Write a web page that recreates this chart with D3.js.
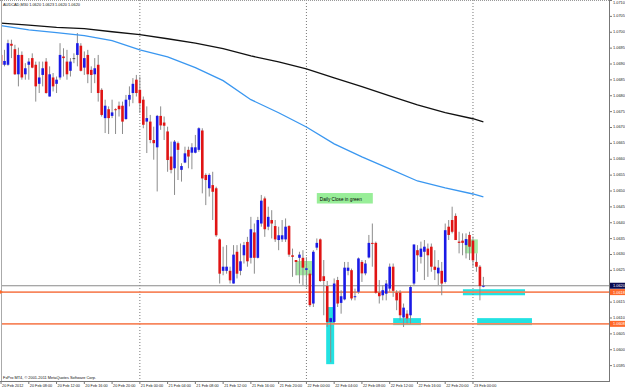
<!DOCTYPE html>
<html>
<head>
<meta charset="utf-8">
<script src="https://cdn.jsdelivr.net/npm/d3@7"></script>
<style>
  html, body { margin: 0; padding: 0; background: #fff; }
  svg { display: block; font-family: "Liberation Sans", Arial, sans-serif; }
</style>
</head>
<body>
<div id="chart"></div>
<script>
// AUDCAD M30, 20 Feb 04:00 .. 23 Feb 01:30 (one entry per bar)
const opens = [
  1.06927, 1.06896, 1.06896, 1.06962, 1.06945, 1.06866, 1.06927, 1.06866, 1.06896, 1.06917,
  1.06896, 1.06836, 1.06864, 1.06906, 1.06796, 1.06856, 1.06836, 1.06856, 1.06922, 1.06906,
  1.06877, 1.06917, 1.06927, 1.06956, 1.06887, 1.06927, 1.06880, 1.06866, 1.06896, 1.06817,
  1.06728, 1.06756, 1.06735, 1.06756, 1.06767, 1.06767, 1.06725, 1.06786, 1.06807, 1.06849,
  1.06817, 1.06786, 1.06717, 1.06717, 1.06659, 1.06636, 1.06735, 1.06714, 1.06686, 1.06607,
  1.06570, 1.06649, 1.06565, 1.06588, 1.06628, 1.06619, 1.06619, 1.06628, 1.06689, 1.06549,
  1.06507, 1.06517, 1.06507, 1.06346, 1.06247, 1.06247, 1.06247, 1.06207, 1.06307, 1.06247,
  1.06296, 1.06338, 1.06288, 1.06368, 1.06288, 1.06396, 1.06475, 1.06386, 1.06407, 1.06388,
  1.06344, 1.06346, 1.06346, 1.06388, 1.06296, 1.06281, 1.06288, 1.06288, 1.06250, 1.06238,
  1.06144, 1.06320, 1.06346, 1.06230, 1.06199, 1.06086, 1.06086, 1.06218, 1.06146, 1.06157,
  1.06247, 1.06249, 1.06165, 1.06181, 1.06275, 1.06239, 1.06289, 1.06335, 1.06335, 1.06178,
  1.06170, 1.06175, 1.06191, 1.06260, 1.06178, 1.06178, 1.06100, 1.06112, 1.06107, 1.06207,
  1.06312, 1.06291, 1.06307, 1.06317, 1.06323, 1.06260, 1.06239, 1.06247, 1.06212, 1.06386,
  1.06407, 1.06420, 1.06339, 1.06342, 1.06328, 1.06360, 1.06342, 1.06275, 1.06260, 1.06199
];
const highs = [
  1.06938, 1.06943, 1.06975, 1.06975, 1.06959, 1.06950, 1.06938, 1.06901, 1.06917, 1.06932,
  1.06906, 1.06906, 1.06906, 1.06917, 1.06891, 1.06870, 1.06859, 1.06964, 1.06948, 1.06943,
  1.06917, 1.06932, 1.06996, 1.06964, 1.06938, 1.06943, 1.06891, 1.06917, 1.06927, 1.06822,
  1.06786, 1.06765, 1.06786, 1.06759, 1.06780, 1.06780, 1.06801, 1.06828, 1.06854, 1.06864,
  1.06859, 1.06796, 1.06765, 1.06738, 1.06701, 1.06738, 1.06765, 1.06733, 1.06701, 1.06654,
  1.06659, 1.06654, 1.06586, 1.06638, 1.06638, 1.06649, 1.06675, 1.06699, 1.06696, 1.06554,
  1.06554, 1.06559, 1.06512, 1.06349, 1.06323, 1.06328, 1.06260, 1.06328, 1.06328, 1.06333,
  1.06338, 1.06354, 1.06417, 1.06396, 1.06417, 1.06486, 1.06481, 1.06449, 1.06438, 1.06407,
  1.06386, 1.06407, 1.06412, 1.06391, 1.06317, 1.06281, 1.06307, 1.06312, 1.06290, 1.06249,
  1.06312, 1.06349, 1.06349, 1.06281, 1.06215, 1.06100, 1.06223, 1.06228, 1.06186, 1.06275,
  1.06275, 1.06254, 1.06191, 1.06289, 1.06281, 1.06281, 1.06360, 1.06396, 1.06339, 1.06218,
  1.06202, 1.06218, 1.06270, 1.06270, 1.06186, 1.06186, 1.06144, 1.06123, 1.06202, 1.06330,
  1.06328, 1.06339, 1.06344, 1.06333, 1.06333, 1.06312, 1.06281, 1.06275, 1.06396, 1.06407,
  1.06449, 1.06428, 1.06370, 1.06365, 1.06365, 1.06370, 1.06355, 1.06302, 1.06265, 1.06228
];
const lows = [
  1.06885, 1.06891, 1.06893, 1.06917, 1.06864, 1.06828, 1.06849, 1.06849, 1.06849, 1.06885,
  1.06780, 1.06807, 1.06828, 1.06805, 1.06796, 1.06812, 1.06807, 1.06849, 1.06859, 1.06849,
  1.06859, 1.06901, 1.06891, 1.06875, 1.06864, 1.06838, 1.06807, 1.06838, 1.06780, 1.06733,
  1.06681, 1.06678, 1.06728, 1.06678, 1.06733, 1.06678, 1.06723, 1.06765, 1.06775, 1.06796,
  1.06744, 1.06696, 1.06618, 1.06649, 1.06597, 1.06497, 1.06691, 1.06659, 1.06559, 1.06554,
  1.06486, 1.06533, 1.06528, 1.06586, 1.06570, 1.06567, 1.06617, 1.06622, 1.06491, 1.06454,
  1.06481, 1.06407, 1.06354, 1.06207, 1.06233, 1.06238, 1.06207, 1.06207, 1.06223, 1.06233,
  1.06270, 1.06260, 1.06270, 1.06238, 1.06286, 1.06386, 1.06354, 1.06375, 1.06349, 1.06338,
  1.06312, 1.06338, 1.06338, 1.06291, 1.06228, 1.06233, 1.06207, 1.06202, 1.06195, 1.06133,
  1.06133, 1.06312, 1.06212, 1.06107, 1.06070, 1.05959, 1.06081, 1.06133, 1.06112, 1.06154,
  1.06233, 1.06154, 1.06154, 1.06175, 1.06212, 1.06233, 1.06286, 1.06260, 1.06175, 1.06144,
  1.06154, 1.06154, 1.06181, 1.06165, 1.06123, 1.06091, 1.06070, 1.06081, 1.06081, 1.06202,
  1.06244, 1.06270, 1.06218, 1.06228, 1.06244, 1.06218, 1.06202, 1.06170, 1.06207, 1.06344,
  1.06365, 1.06344, 1.06302, 1.06296, 1.06286, 1.06281, 1.06260, 1.06244, 1.06154, 1.06195
];
const closes = [
  1.06896, 1.06908, 1.06964, 1.06956, 1.06866, 1.06927, 1.06856, 1.06885, 1.06906, 1.06887,
  1.06828, 1.06856, 1.06885, 1.06807, 1.06866, 1.06828, 1.06849, 1.06927, 1.06917, 1.06866,
  1.06906, 1.06917, 1.06964, 1.06877, 1.06917, 1.06866, 1.06864, 1.06885, 1.06807, 1.06738,
  1.06767, 1.06728, 1.06746, 1.06754, 1.06756, 1.06717, 1.06786, 1.06801, 1.06836, 1.06807,
  1.06775, 1.06707, 1.06728, 1.06659, 1.06649, 1.06735, 1.06705, 1.06704, 1.06596, 1.06565,
  1.06654, 1.06628, 1.06577, 1.06617, 1.06607, 1.06636, 1.06636, 1.06696, 1.06538, 1.06533,
  1.06549, 1.06496, 1.06359, 1.06238, 1.06260, 1.06260, 1.06217, 1.06298, 1.06238, 1.06277,
  1.06328, 1.06277, 1.06378, 1.06288, 1.06407, 1.06468, 1.06378, 1.06417, 1.06396, 1.06346,
  1.06359, 1.06359, 1.06386, 1.06298, 1.06291, 1.06275, 1.06298, 1.06257, 1.06255, 1.06139,
  1.06307, 1.06335, 1.06215, 1.06215, 1.06086, 1.06098, 1.06207, 1.06144, 1.06167, 1.06257,
  1.06257, 1.06160, 1.06167, 1.06286, 1.06239, 1.06270, 1.06335, 1.06333, 1.06178, 1.06167,
  1.06186, 1.06207, 1.06260, 1.06184, 1.06154, 1.06107, 1.06131, 1.06097, 1.06196, 1.06330,
  1.06296, 1.06317, 1.06323, 1.06296, 1.06260, 1.06250, 1.06257, 1.06207, 1.06375, 1.06360,
  1.06370, 1.06344, 1.06335, 1.06335, 1.06347, 1.06323, 1.06280, 1.06260, 1.06199, 1.06200
];

// moving averages, read every 8 bars (plus the last bar)
const maBars = [0, 8, 16, 24, 32, 40, 48, 56, 64, 72, 80, 88, 96, 104, 112, 120, 128, 136, 139];
const maSlow = [1.07027, 1.07021, 1.07014, 1.07010, 1.07000, 1.06991, 1.06978, 1.06964, 1.06947, 1.06924,
  1.06905, 1.06883, 1.06855, 1.06827, 1.06798, 1.06770, 1.06745, 1.06726, 1.06716];
const maFast = [1.07019, 1.07006, 1.06997, 1.06988, 1.06972, 1.06943, 1.06921, 1.06887, 1.06846, 1.06786,
  1.06745, 1.06700, 1.06647, 1.06606, 1.06568, 1.06530, 1.06508, 1.06489, 1.06480];

const timeLabels = ["20 Feb 2012", "20 Feb 08:00", "20 Feb 12:00", "20 Feb 16:00", "20 Feb 20:00",
  "21 Feb 00:00", "21 Feb 04:00", "21 Feb 08:00", "21 Feb 12:00", "21 Feb 16:00", "21 Feb 20:00",
  "22 Feb 00:00", "22 Feb 04:00", "22 Feb 08:00", "22 Feb 12:00", "22 Feb 16:00", "22 Feb 20:00",
  "23 Feb 00:00"];
const dayStarts = [40, 88, 136];
const priceTicks = [1.0595, 1.0600, 1.0605, 1.0610, 1.0615, 1.0620, 1.0625, 1.0630, 1.0635, 1.0640,
  1.0645, 1.0650, 1.0655, 1.0660, 1.0665, 1.0670, 1.0675, 1.0680, 1.0685, 1.0690, 1.0695, 1.0700,
  1.0705, 1.0710];

const bidPrice = 1.0620;
const levelPrices = [1.0618, 1.0608];

// drawn objects: [fromBar, toBar, topPrice, bottomPrice]
const cyanBoxes = [
  [93.7, 96.0, 1.06133, 1.05953],
  [113.0, 121.0, 1.06098, 1.06076],
  [133.1, 151.0, 1.06189, 1.06170],
  [137.2, 153.0, 1.06098, 1.06076]
];
const greenBoxes = [
  [85.0, 90.0, 1.06278, 1.06233],
  [133.7, 137.4, 1.06346, 1.06302]
];
const noteText = "Daily Close in green";
const noteAt = [91.0, 1.06492, 1.06459];

const W = 625, H = 389;
const plotR = 609, plotB = 381;

const svg = d3.select("#chart").append("svg").attr("width", W).attr("height", H);
svg.append("rect").attr("width", W).attr("height", H).attr("fill", "#fff");

const x = d3.scaleLinear().domain([-0.3, 175.2]).range([0, plotR]);
const y = d3.scaleLinear().domain([1.0590, 1.0710]).range([plotB, 0]);

svg.append("defs").append("clipPath").attr("id", "plot")
  .append("rect").attr("x", 1).attr("y", 0).attr("width", plotR - 1).attr("height", plotB);

const plot = svg.append("g").attr("clip-path", "url(#plot)");

// rectangles behind the bars
const box = (b) => ({ x: x(b[0]), y: y(b[2]), w: x(b[1]) - x(b[0]), h: y(b[3]) - y(b[2]) });
plot.selectAll(".cyan").data(cyanBoxes).enter().append("rect")
  .attr("x", (d) => box(d).x).attr("y", (d) => box(d).y)
  .attr("width", (d) => box(d).w).attr("height", (d) => box(d).h)
  .attr("fill", "#22e2e2");
plot.selectAll(".green").data(greenBoxes).enter().append("rect")
  .attr("x", (d) => box(d).x).attr("y", (d) => box(d).y)
  .attr("width", (d) => box(d).w).attr("height", (d) => box(d).h)
  .attr("fill", "#98e898").attr("opacity", 0.9);

// period separators
plot.selectAll(".sep").data(dayStarts).enter().append("line")
  .attr("x1", (d) => x(d)).attr("x2", (d) => x(d))
  .attr("y1", 0).attr("y2", plotB)
  .attr("stroke", "#777").attr("stroke-dasharray", "1,2").attr("stroke-width", 1);

// horizontal levels
plot.append("line").attr("x1", 0).attr("x2", plotR)
  .attr("y1", y(bidPrice)).attr("y2", y(bidPrice))
  .attr("stroke", "#8a8a8a").attr("stroke-width", 1);
plot.selectAll(".lvl").data(levelPrices).enter().append("line")
  .attr("x1", 0).attr("x2", plotR)
  .attr("y1", (d) => y(d)).attr("y2", (d) => y(d))
  .attr("stroke", "#f7875e").attr("stroke-width", 1.6);

// candles
const bars = d3.range(opens.length);
const bodyW = 2.6;
plot.selectAll(".wick").data(bars).enter().append("line")
  .attr("x1", (i) => x(i)).attr("x2", (i) => x(i))
  .attr("y1", (i) => y(highs[i])).attr("y2", (i) => y(lows[i]))
  .attr("stroke", "#8c8c8c").attr("stroke-width", 1);
plot.selectAll(".body").data(bars).enter().append("rect")
  .attr("x", (i) => x(i) - bodyW / 2)
  .attr("y", (i) => y(Math.max(opens[i], closes[i])))
  .attr("width", bodyW)
  .attr("height", (i) => Math.max(1, Math.abs(y(opens[i]) - y(closes[i]))))
  .attr("fill", (i) => (closes[i] > opens[i] ? "#1a1ae6" : closes[i] < opens[i] ? "#e01414" : "#555"));

// moving averages
const maLine = (vals) => d3.line().x((d, k) => x(maBars[k])).y((d) => y(d))(vals);
plot.append("path").attr("d", maLine(maSlow)).attr("fill", "none")
  .attr("stroke", "#111").attr("stroke-width", 1.3);
plot.append("path").attr("d", maLine(maFast)).attr("fill", "none")
  .attr("stroke", "#3a97f0").attr("stroke-width", 1.3);

// note
const nx = x(noteAt[0]), ny = y(noteAt[1]);
plot.append("rect").attr("x", nx).attr("y", ny)
  .attr("width", 56).attr("height", y(noteAt[2]) - ny).attr("fill", "#98ee98");
plot.append("text").attr("x", nx + 3).attr("y", ny + 7.6)
  .attr("font-size", 4.7).attr("fill", "#000").text(noteText);

// frame
svg.append("line").attr("x1", 1.5).attr("x2", 1.5).attr("y1", 0).attr("y2", plotB)
  .attr("stroke", "#aaa");
svg.append("line").attr("x1", 0).attr("x2", plotR).attr("y1", 0.5).attr("y2", 0.5)
  .attr("stroke", "#999").attr("stroke-dasharray", "1,1");
svg.append("line").attr("x1", plotR + 0.5).attr("x2", plotR + 0.5).attr("y1", 0).attr("y2", plotB + 1)
  .attr("stroke", "#777");
svg.append("line").attr("x1", 0).attr("x2", plotR + 1).attr("y1", plotB + 0.5).attr("y2", plotB + 0.5)
  .attr("stroke", "#777");

// price axis
const pAxis = svg.append("g").attr("font-size", 3.9).attr("fill", "#222");
priceTicks.forEach((p) => {
  pAxis.append("line").attr("x1", plotR + 1).attr("x2", plotR + 3)
    .attr("y1", y(p) + 0.5).attr("y2", y(p) + 0.5).attr("stroke", "#777");
  pAxis.append("text").attr("x", plotR + 4).attr("y", Math.max(y(p) + 1.4, 3.6)).text(p.toFixed(4));
});

// price markers
const marker = (p, bg) => {
  pAxis.append("rect").attr("x", plotR + 1).attr("y", y(p) - 3).attr("width", 15).attr("height", 6)
    .attr("fill", bg);
  pAxis.append("text").attr("x", plotR + 4).attr("y", y(p) + 1.4).attr("fill", "#fff").text(p.toFixed(4));
};
marker(bidPrice, "#0a0a50");
levelPrices.forEach((p) => marker(p, "#ff6a2a"));
svg.append("path")
  .attr("d", `M0,${y(levelPrices[0]) - 2}L3,${y(levelPrices[0])}L0,${y(levelPrices[0]) + 2}Z`)
  .attr("fill", "#ff6a2a");

// time axis
const tAxis = svg.append("g").attr("font-size", 3.8).attr("fill", "#222");
timeLabels.forEach((t, k) => {
  const tx = x(k * 8);
  tAxis.append("line").attr("x1", tx).attr("x2", tx).attr("y1", plotB + 1).attr("y2", plotB + 3)
    .attr("stroke", "#777");
  tAxis.append("text").attr("x", tx + 1).attr("y", plotB + 5.8).text(t);
});

// captions
svg.append("text").attr("x", 3).attr("y", 6.3).attr("font-size", 3.9).attr("fill", "#111")
  .text("AUDCAD,M30  1.0620 1.0623 1.0620 1.0620");
svg.append("text").attr("x", 3).attr("y", 379).attr("font-size", 3.9).attr("fill", "#111")
  .text("FxPro MT4, \u00a9 2001-2011 MetaQuotes Software Corp.");
</script>
</body>
</html>
